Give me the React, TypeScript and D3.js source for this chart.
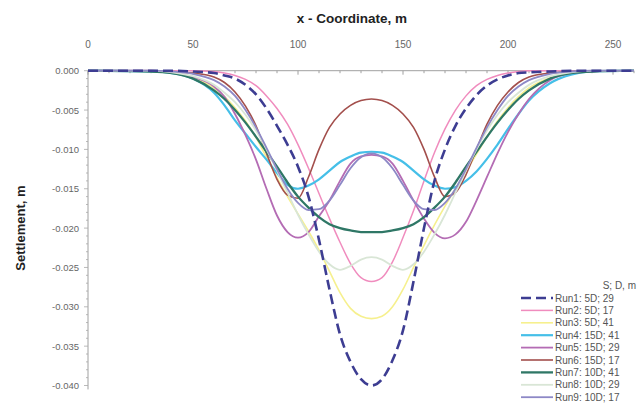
import React from 'react';
import * as d3 from 'd3';

const xs = [0, 30, 40, 50, 60, 65, 70, 75, 80, 85, 90, 95, 100, 105, 110, 115, 120, 125, 130,
  135,
  140, 145, 150, 155, 160, 165, 170, 175, 180, 185, 190, 195, 200, 205, 210, 220, 230, 240, 260];

const run1 = [0, 0, 0, -0.0001, -0.0003, -0.0006, -0.001, -0.0018, -0.003, -0.0048, -0.007, -0.0094, -0.0122, -0.016, -0.0215, -0.0278, -0.0335, -0.037, -0.0392,
  -0.04,
  -0.0392, -0.0368, -0.033, -0.0268, -0.02, -0.014, -0.01, -0.007, -0.0048, -0.0031, -0.0019, -0.0011, -0.0006, -0.0003, -0.0002, -0.0001, 0, 0, 0];
const run2 = [0, 0, 0, 0, -0.0001, -0.0003, -0.0006, -0.0011, -0.0019, -0.0032, -0.0048, -0.0068, -0.0094, -0.0124, -0.0156, -0.0188, -0.0218, -0.0245, -0.0263,
  -0.0268,
  -0.0263, -0.0243, -0.0212, -0.0178, -0.014, -0.0104, -0.0074, -0.005, -0.0032, -0.0019, -0.0011, -0.0006, -0.0003, -0.0001, 0, 0, 0, 0, 0];
const run3 = [0, -0.0001, -0.0003, -0.0009, -0.0022, -0.0033, -0.0047, -0.0064, -0.0085, -0.011, -0.0136, -0.016, -0.0182, -0.0204, -0.0228, -0.0255, -0.0282, -0.0302, -0.0312,
  -0.0315,
  -0.0312, -0.03, -0.0278, -0.025, -0.0222, -0.0196, -0.0172, -0.015, -0.0128, -0.0106, -0.0084, -0.0064, -0.0047, -0.0033, -0.0022, -0.0009, -0.0003, -0.0001, 0];
const run4 = [0, -0.0001, -0.0003, -0.001, -0.0028, -0.0044, -0.0063, -0.008, -0.0097, -0.0113, -0.013, -0.0145, -0.015, -0.0146, -0.0138, -0.0127, -0.0116, -0.0109, -0.0104,
  -0.0103,
  -0.0104, -0.0109, -0.0116, -0.0127, -0.0138, -0.0146, -0.015, -0.0148, -0.014, -0.0128, -0.0112, -0.0094, -0.0074, -0.0055, -0.0038, -0.0016, -0.0005, -0.0001, 0];
const run5 = [0, 0, -0.0002, -0.0008, -0.002, -0.0033, -0.0055, -0.0082, -0.0113, -0.015, -0.0184, -0.0205, -0.0212, -0.0205, -0.0185, -0.0165, -0.014, -0.0118, -0.0109,
  -0.0107,
  -0.0109, -0.0118, -0.014, -0.0165, -0.0188, -0.0206, -0.0213, -0.0208, -0.0192, -0.0165, -0.0135, -0.0105, -0.0078, -0.0055, -0.0036, -0.0012, -0.0003, -0.0001, 0];
const run6 = [0, 0, -0.0001, -0.0003, -0.0008, -0.0015, -0.0027, -0.0045, -0.007, -0.0105, -0.0138, -0.0158, -0.0162, -0.0135, -0.01, -0.0072, -0.0055, -0.0044, -0.0038,
  -0.0036,
  -0.0038, -0.0044, -0.0055, -0.0072, -0.01, -0.0135, -0.016, -0.0155, -0.0132, -0.01, -0.0068, -0.0044, -0.0027, -0.0015, -0.0008, -0.0003, -0.0001, 0, 0];
const run7 = [0, -0.0001, -0.0003, -0.001, -0.0025, -0.0036, -0.005, -0.0066, -0.0084, -0.0103, -0.0122, -0.0142, -0.016, -0.0174, -0.0186, -0.0195, -0.02, -0.0203, -0.0205,
  -0.0205,
  -0.0205, -0.0203, -0.02, -0.0195, -0.0186, -0.0174, -0.016, -0.0142, -0.0122, -0.0103, -0.0084, -0.0066, -0.005, -0.0036, -0.0025, -0.001, -0.0003, -0.0001, 0];
const run8 = [0, 0, -0.0002, -0.0007, -0.0018, -0.0028, -0.004, -0.0056, -0.0076, -0.01, -0.0127, -0.0155, -0.0183, -0.0208, -0.023, -0.0246, -0.0253, -0.0248, -0.024,
  -0.0237,
  -0.024, -0.0248, -0.0253, -0.0246, -0.023, -0.0208, -0.0183, -0.0155, -0.0127, -0.01, -0.0076, -0.0056, -0.004, -0.0028, -0.0018, -0.0007, -0.0002, 0, 0];
const run9 = [0, 0, -0.0001, -0.0004, -0.0012, -0.002, -0.0032, -0.005, -0.0072, -0.0098, -0.0125, -0.015, -0.0168, -0.0177, -0.0176, -0.0165, -0.0145, -0.0124, -0.011,
  -0.0105,
  -0.011, -0.0124, -0.0145, -0.0165, -0.0176, -0.0177, -0.0168, -0.015, -0.0125, -0.0098, -0.0072, -0.005, -0.0032, -0.002, -0.0012, -0.0004, -0.0001, 0, 0];

const runNames = ['Run1: 5D; 29', 'Run2: 5D; 17', 'Run3: 5D; 41', 'Run4: 15D; 41', 'Run5: 15D; 29',
  'Run6: 15D; 17', 'Run7: 10D; 41', 'Run8: 10D; 29', 'Run9: 10D; 17'];
const runValues = [run1, run2, run3, run4, run5, run6, run7, run8, run9];

const xTicks = [0, 50, 100, 150, 200, 250];
const yTicks = [0, -0.005, -0.01, -0.015, -0.02, -0.025, -0.03, -0.035, -0.04];

const styles = [
  { color: '#3d3d92', width: 2.6, dash: '10,5' },
  { color: '#f08cbe', width: 1.5, dash: null },
  { color: '#f6f08e', width: 1.6, dash: null },
  { color: '#45bfe8', width: 2.2, dash: null },
  { color: '#b46cb4', width: 1.8, dash: null },
  { color: '#a34f4c', width: 1.6, dash: null },
  { color: '#2f7766', width: 2.3, dash: null },
  { color: '#d9e6d6', width: 1.8, dash: null },
  { color: '#8d88c6', width: 1.8, dash: null },
];

const W = 644;
const H = 407;
const font = '"Liberation Sans", Arial, sans-serif';

export default function App() {
  const x = d3.scaleLinear().domain([0, 260]).range([88, 634]);
  const y = d3.scaleLinear().domain([-0.04, 0]).range([385.5, 70.7]);

  const line = d3.line<number>()
    .x((_, i) => x(xs[i]))
    .y((d) => y(d))
    .curve(d3.curveMonotoneX);

  const minorX = d3.range(0, 261, 10);
  const minorY = d3.range(0, 41).map((k) => -k * 0.001);

  // draw Run1 (dashed) last so it sits on top
  const order = [1, 2, 3, 4, 5, 6, 7, 8, 0];

  return (
    <svg width={W} height={H} style={{ position: 'absolute', left: 0, top: 0, background: '#fff' }}
      fontFamily={font}>
      {/* top x axis */}
      <line x1={x(0)} x2={x(260)} y1={y(0)} y2={y(0)} stroke="#a0a0a0" strokeWidth={1} />
      {minorX.map((t) => (
        <line key={'mx' + t} x1={x(t)} x2={x(t)} y1={y(0)} y2={y(0) + (t % 50 === 0 ? 4 : 2.5)}
          stroke="#a0a0a0" strokeWidth={1} />
      ))}
      {xTicks.map((t) => (
        <text key={'xt' + t} x={x(t)} y={48} textAnchor="middle" fontSize={10} fill="#666">{t}</text>
      ))}
      <text x={352} y={23} textAnchor="middle" fontSize={13.5} fontWeight="bold" fill="#222">x - Coordinate, m</text>

      {/* left y axis */}
      <line x1={x(0)} x2={x(0)} y1={y(0)} y2={y(-0.0405)} stroke="#a0a0a0" strokeWidth={1} />
      {minorY.map((t, i) => (
        <line key={'my' + i} x1={x(0) - (i % 5 === 0 ? 4 : 2)} x2={x(0)} y1={y(t)} y2={y(t)}
          stroke="#a8a8a8" strokeWidth={0.8} />
      ))}
      {yTicks.map((t) => (
        <text key={'yt' + t} x={79} y={y(t) + 3.5} textAnchor="end" fontSize={9.5} fill="#666">
          {d3.format('.3f')(t).replace('−', '-')}
        </text>
      ))}
      <text transform={`translate(25,${(y(0) + y(-0.04)) / 2}) rotate(-90)`} textAnchor="middle"
        fontSize={13} fontWeight="bold" fill="#222">Settlement, m</text>

      {/* curves */}
      {order.map((k) => (
        <path key={'run' + k} d={line(runValues[k]) || ''} fill="none" stroke={styles[k].color}
          strokeWidth={styles[k].width} strokeDasharray={styles[k].dash || undefined}
          strokeLinejoin="round" />
      ))}

      {/* legend */}
      <text x={636} y={289} textAnchor="end" fontSize={10} fill="#555">S; D, m</text>
      {runNames.map((name, k) => {
        const ly = 298 + k * 12.4;
        return (
          <g key={'lg' + k}>
            <line x1={521} x2={553} y1={ly} y2={ly} stroke={styles[k].color}
              strokeWidth={styles[k].width} strokeDasharray={styles[k].dash || undefined} />
            <text x={555} y={ly + 3.5} fontSize={10} fill="#555">{name}</text>
          </g>
        );
      })}
    </svg>
  );
}
